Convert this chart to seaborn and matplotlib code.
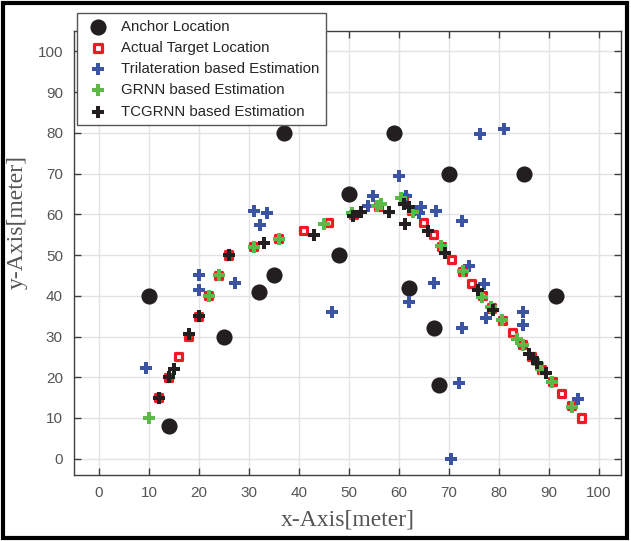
#import library
import matplotlib
matplotlib.use('Agg')
import matplotlib.pyplot as plt
import seaborn as sns
import pandas as pd
from matplotlib.patches import Rectangle

#anchor nodes
anchor_x=[10,14,25,32,35,37,48,50,59,62,67,68,70,85,91.5]
anchor_y=[40,8,30,41,45,80,50,65,80,42,32,18,70,70,40]

#actual target locations
target_x=[12,14,16,18,20,22,24,26,31,36,41,46,51,56,61,62.5,65,67,68.5,70.5,72.8,74.6,76.7,78.5,80.7,82.7,84.8,86.5,88.5,90.7,92.6,94.6,96.6]
target_y=[15,20,25,30,35,40,45,50,52,54,56,58,60,62,64,61,58,55,52,49,46,43,40,37,34,31,28,25,22,19,16,13,10]

#trilateration based estimation
tri_x=[9.5,20.1,20.1,27.3,31.1,33.6,32.3,46.7,53.8,54.8,60.1,61.5,62.1,64.5,64.1,67.5,67.1,72.7,74,77.1,72.7,72.1,70.5,76.3,81.1,77.5,84.9,84.9,95.9]
tri_y=[22.2,41.5,45,43.1,60.9,60.3,57.4,36,62.1,64.5,69.4,64.5,38.5,61.7,60.2,60.7,43.1,58.4,47.3,42.8,32.1,18.6,0,79.7,80.9,34.6,36.1,32.8,14.7]

#GRNN based estimation
grnn_x=[10,22,24,31,36,45,50.6,55.6,56.5,60.5,62.8,68.5,72.8,76.7,78.4,80.7,83.7,84.8,87.8,88.5,90.7,94.6]
grnn_y=[10,40,45,52,54,57.5,60.2,62,62.5,64,60.5,52.3,46,39.8,37.2,34,29.3,28,23.2,22.1,18.8,12.8]

#TCGRNN based estimation
tcg_x=[12,14,15,18,20,26,33,43,50.8,52.4,58,61.1,62,61.3,65.8,69.3,75.8,78.8,86,86.8,87.6,89.5]
tcg_y=[15,20,22,30.5,35,50,53,54.8,59.5,60.5,60.5,62.5,61.8,57.6,56,50.5,41.4,36.5,25.6,24.7,23.6,21]

sns.set_theme(style='white')
plt.rcParams['font.family']=['Liberation Sans','DejaVu Sans']

fig=plt.figure(figsize=(6.31,5.41),dpi=100)
ax=fig.add_axes([0.1173,0.1220,0.8669,0.8207])

ax.grid(True,color='#e3e3e3',linewidth=1)
ax.set_axisbelow(True)

sns.scatterplot(x=anchor_x,y=anchor_y,ax=ax,color='#231f20',marker='o',s=135,linewidth=0,label='Anchor Location',zorder=3)
sns.scatterplot(x=target_x,y=target_y,ax=ax,marker='s',s=26,facecolor='none',edgecolor='#ed1c24',linewidth=2.3,label='Actual Target Location',zorder=4)
sns.scatterplot(x=tri_x,y=tri_y,ax=ax,color='#3a53a4',marker='P',s=68,linewidth=0,label='Trilateration based Estimation',zorder=5)
sns.scatterplot(x=grnn_x,y=grnn_y,ax=ax,color='#5cb847',marker='P',s=68,linewidth=0,label='GRNN based Estimation',zorder=6)
sns.scatterplot(x=tcg_x,y=tcg_y,ax=ax,color='#231f20',marker='P',s=68,linewidth=0,label='TCGRNN based Estimation',zorder=7)

ax.set_xlim(-5,104.5)
ax.set_ylim(-4,105)
ax.set_xticks(range(0,101,10))
ax.set_yticks(range(0,101,10))
ax.tick_params(direction='in',length=5,width=1,colors='#404040',labelcolor='#555555',labelsize=11,
               top=True,right=True,bottom=True,left=True,pad=8)
for sp in ax.spines.values():
    sp.set_color('#404040')
    sp.set_linewidth(1)
    sp.set_visible(True)

ax.set_xlabel('x-Axis[meter]',family='Liberation Serif',fontsize=17,color='#555555')
ax.set_ylabel('y-Axis[meter]',family='Liberation Serif',fontsize=17,color='#555555')
ax.xaxis.set_label_coords(0.5,-0.078)
ax.yaxis.set_label_coords(-0.085,0.57)

leg=ax.legend(loc='upper left',bbox_to_anchor=(0.122,0.976),bbox_transform=fig.transFigure,
              borderaxespad=0,fontsize=10.8,frameon=True,fancybox=False,edgecolor='#555555',
              framealpha=1,labelspacing=0.48,handletextpad=0.6,handlelength=1.9,borderpad=0.45)
leg.get_frame().set_linewidth(1)
leg.set_zorder(10)

#figure border
fig.patches.append(Rectangle((0.004,0.006),0.99,0.988,transform=fig.transFigure,fill=False,edgecolor='black',linewidth=3))

fig.savefig('out.png',dpi=100)
